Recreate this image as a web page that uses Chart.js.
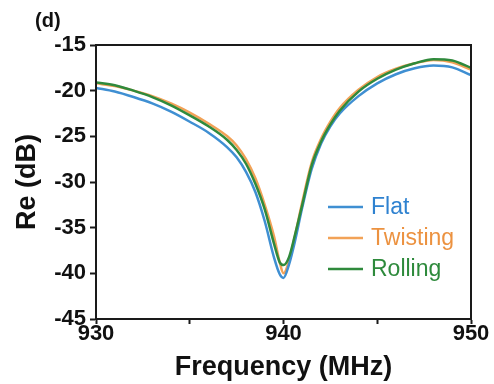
<!DOCTYPE html>
<html>
<head>
<meta charset="utf-8">
<script src="https://cdn.jsdelivr.net/npm/chart.js@4.4.1/dist/chart.umd.min.js"></script>
<style>
html,body{margin:0;padding:0;background:#fff;}
#wrap{position:relative;width:494px;height:384px;}
</style>
</head>
<body>
<div id="wrap"><canvas id="c" width="494" height="384"></canvas></div>
<script>
const freqs    = [930, 931, 932, 933, 934, 935, 936, 937, 937.5, 938, 938.5, 939, 939.5, 939.8, 940, 940.3, 940.6, 941, 941.5, 942, 942.5, 943, 944, 945, 946, 947, 948, 949, 950];
const flat     = [-19.7, -20.1, -20.7, -21.4, -22.3, -23.4, -24.6, -26.2, -27.3, -28.9, -31.1, -34.3, -38.3, -40.1, -40.5, -39.0, -36.6, -32.8, -28.6, -25.8, -23.9, -22.5, -20.6, -19.2, -18.2, -17.55, -17.25, -17.45, -18.3];
const twisting = [-19.2, -19.5, -20.0, -20.6, -21.4, -22.4, -23.6, -25.0, -26.0, -27.5, -29.6, -32.5, -36.0, -38.8, -40.0, -38.6, -36.0, -32.2, -27.9, -25.3, -23.4, -21.9, -19.9, -18.5, -17.6, -17.0, -16.65, -16.9, -17.7];
const rolling  = [-19.1, -19.4, -20.0, -20.7, -21.6, -22.7, -23.9, -25.4, -26.5, -28.0, -30.2, -33.0, -36.8, -38.8, -39.1, -38.2, -35.9, -32.5, -28.2, -25.6, -23.7, -22.2, -20.1, -18.7, -17.7, -17.0, -16.55, -16.7, -17.5];
const seriesNames = ['Flat', 'Twisting', 'Rolling'];
const xTickLabels = [930, 940, 950];
const yTickLabels = [-15, -20, -25, -30, -35, -40, -45];

const colors = ['#3f8fd2', '#f2a257', '#2f8a3c'];
const textColors = ['#2f82d0', '#ec9240', '#2e8a3c'];
const FONT = '"Liberation Sans", Arial, sans-serif';

function pts(arr){ return freqs.map((f,i)=>({x:f, y:arr[i]})); }

const boxPlugin = {
  id: 'boxAndLegend',
  afterDatasetsDraw(chart){
    const {ctx, chartArea:a} = chart;
    ctx.save();
    ctx.strokeStyle = '#1a1a1a';
    ctx.lineWidth = 2;
    ctx.strokeRect(a.left, a.top, a.right - a.left, a.bottom - a.top);
    // legend
    const ys = [207, 238, 269];
    ctx.font = '23px ' + FONT;
    ctx.textBaseline = 'alphabetic';
    seriesNames.forEach((n,i)=>{
      ctx.strokeStyle = colors[i];
      ctx.lineWidth = 2.5;
      ctx.beginPath();
      ctx.moveTo(328, ys[i]);
      ctx.lineTo(363, ys[i]);
      ctx.stroke();
      ctx.fillStyle = textColors[i];
      ctx.fillText(n, 371, ys[i] + 7);
    });
    // panel label
    ctx.fillStyle = '#111';
    ctx.font = 'bold 20px ' + FONT;
    ctx.fillText('(d)', 35, 27);
    ctx.restore();
  }
};

new Chart(document.getElementById('c'), {
  type: 'line',
  data: {
    datasets: [
      {label: seriesNames[2], data: pts(rolling), borderColor: colors[2], order: 0},
      {label: seriesNames[0], data: pts(flat), borderColor: colors[0], order: 1},
      {label: seriesNames[1], data: pts(twisting), borderColor: colors[1], order: 2}
    ].map(d=>Object.assign(d, {borderWidth: 2.5, pointRadius: 0, fill: false, cubicInterpolationMode: 'monotone'}))
  },
  options: {
    responsive: false,
    animation: false,
    devicePixelRatio: 1,
    layout: {padding: {left: 0, right: 23, top: 45, bottom: 0}},
    plugins: {legend: {display: false}, tooltip: {enabled: false}},
    scales: {
      x: {
        type: 'linear', min: 930, max: 950,
        afterFit(s){ s.height = 65; },
        ticks: {
          stepSize: 5, color: '#111', padding: -3, maxRotation: 0,
          font: {family: FONT, size: 22, weight: 'bold'},
          callback: v => xTickLabels.includes(v) ? String(v) : ''
        },
        grid: {drawOnChartArea: false, tickLength: 5, tickColor: '#1a1a1a', tickWidth: 2},
        border: {display: true, color: '#1a1a1a', width: 2},
        title: {display: true, text: 'Frequency (MHz)', color: '#111', padding: {top: 0, bottom: 0},
                font: {family: FONT, size: 27, weight: 'bold'}}
      },
      y: {
        min: -45, max: -15,
        afterFit(s){ s.width = 96; },
        ticks: {
          stepSize: 2.5, color: '#111', padding: 4,
          font: {family: FONT, size: 22, weight: 'bold'},
          callback: v => yTickLabels.includes(v) ? String(v) : ''
        },
        grid: {drawOnChartArea: false, tickLength: 6, tickColor: '#1a1a1a', tickWidth: 2},
        border: {display: true, color: '#1a1a1a', width: 2},
        title: {display: true, text: 'Re (dB)', color: '#111', padding: {top: 11, bottom: 0},
                font: {family: FONT, size: 27, weight: 'bold'}}
      }
    }
  },
  plugins: [boxPlugin]
});
</script>
</body>
</html>
